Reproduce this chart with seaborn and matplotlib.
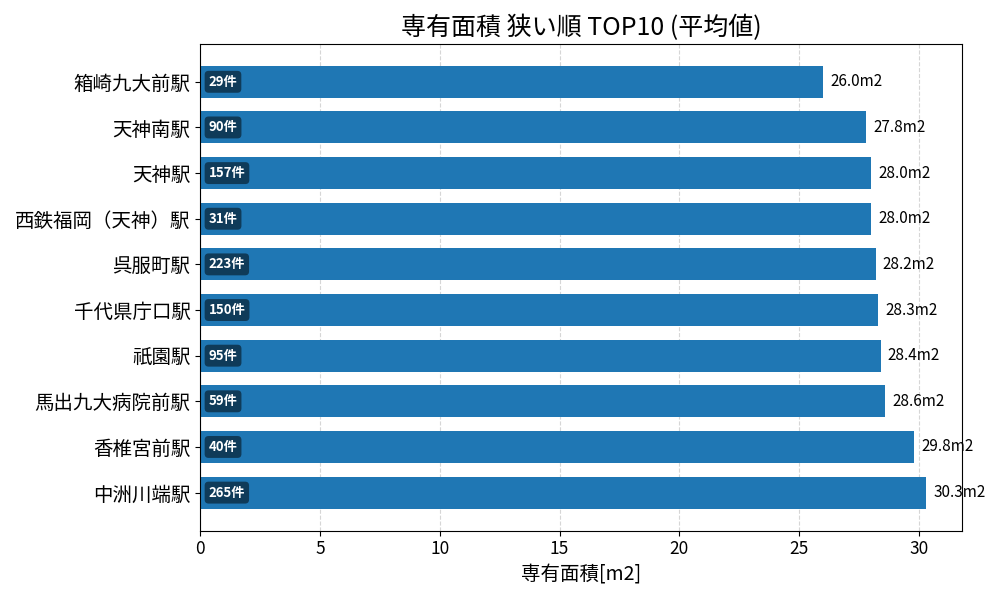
import pandas as pd
import matplotlib
matplotlib.use("Agg")
import matplotlib.pyplot as plt
import seaborn as sns

plt.rcParams["font.family"] = ["Noto Sans CJK JP", "DejaVu Sans"]

# data (narrowest first)
stations = ["箱崎九大前駅", "天神南駅", "天神駅", "西鉄福岡（天神）駅", "呉服町駅",
            "千代県庁口駅", "祇園駅", "馬出九大病院前駅", "香椎宮前駅", "中洲川端駅"]
avg_area = [26.0, 27.8, 28.0, 28.0, 28.2, 28.3, 28.4, 28.6, 29.8, 30.3]
counts = [29, 90, 157, 31, 223, 150, 95, 59, 40, 265]

df = pd.DataFrame({"station": stations, "area": avg_area, "count": counts})

fig, ax = plt.subplots(figsize=(10, 6), dpi=100)
sns.barplot(data=df, x="area", y="station", orient="h", color="#1f77b4",
            saturation=1, width=0.7, ax=ax, zorder=2)

n = len(df)
ax.set_ylim(n - 1 + 0.835, -0.835)
ax.set_xlim(0, df["area"].max() * 1.05)
ax.grid(axis="x", linestyle="--", color="#cccccc", alpha=0.8, zorder=0)
ax.set_axisbelow(True)

for i, row in df.iterrows():
    ax.text(row["area"] + 0.3, i, f"{row['area']:.1f}m2", va="center", ha="left", fontsize=11)
    ax.text(0.35, i, f"{row['count']}件", va="center", ha="left", fontsize=9.5,
            color="white", fontweight="bold",
            bbox=dict(boxstyle="round,pad=0.3", facecolor="black", alpha=0.5, edgecolor="none"))

ax.set_title("専有面積 狭い順 TOP10 (平均値)", fontsize=18)
ax.set_xlabel("専有面積[m2]", fontsize=14)
ax.set_ylabel("")
ax.tick_params(axis="y", labelsize=14)
ax.tick_params(axis="x", labelsize=12.5)

plt.tight_layout()
plt.savefig("out.png", dpi=100)
